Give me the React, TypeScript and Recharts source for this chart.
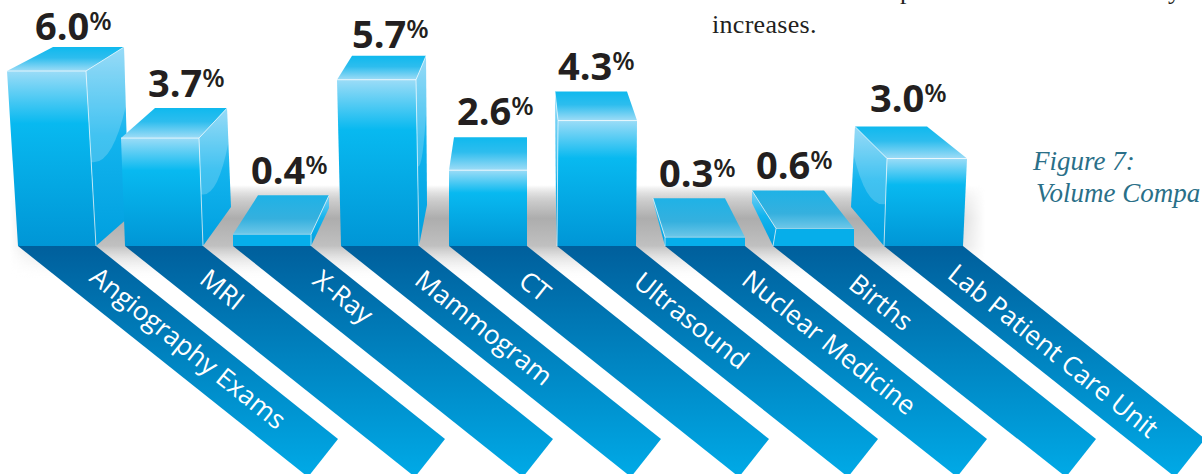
import { Bar, BarChart, LabelList, XAxis, YAxis } from "recharts";

const categories = [
  "Angiography Exams",
  "MRI",
  "X-Ray",
  "Mammogram",
  "CT",
  "Ultrasound",
  "Nuclear Medicine",
  "Births",
  "Lab Patient Care Unit",
];
const volumeChange = [6.0, 3.7, 0.4, 5.7, 2.6, 4.3, 0.3, 0.6, 3.0];

const chartData = categories.map((name, i) => ({ name, value: volumeChange[i] }));

// Perspective of each column, in px relative to its slot.
// front: top edge of the front face, back: far edge of the lid (dy above the front edge),
// foot: where the side wall meets the floor (null when no wall shows), base: front face on the floor,
// label: value text offset and lift, tag: start of the category text on its strip.
type Box = {
  front: [number, number];
  back: [number, number, number];
  foot: [number, number] | null;
  wall: "left" | "right" | null;
  base: [number, number];
  label: [number, number];
  tag: [number, number];
};
const boxes: Box[] = [
  { front: [-11, 68], back: [35, 106, -24], foot: [111, -29], wall: "right", base: [0, 78], label: [17, 31], tag: [70, 34] },
  { front: [-5, 73], back: [29, 101, -30], foot: [105, -39], wall: "right", base: [-1, 77], label: [22, 41], tag: [73, 36] },
  { front: [-1, 77], back: [24, 95, -39], foot: [95, -38], wall: "right", base: [-1, 77], label: [17, 50], tag: [78, 37] },
  { front: [-5, 74], back: [10, 84, -24], foot: [85, -41], wall: "right", base: [-1, 77], label: [10, 32], tag: [72, 37] },
  { front: [-1, 77], back: [4, 77, -33], foot: null, wall: null, base: [-1, 77], label: [7, 45], tag: [68, 38] },
  { front: [0, 79], back: [-3, 69, -29], foot: [-2, -41], wall: "left", base: [-1, 78], label: [0, 41], tag: [75, 39] },
  { front: [-1, 79], back: [-13, 59, -39], foot: [-12, -41], wall: "left", base: [-1, 79], label: [-7, 50], tag: [75, 37] },
  { front: [2, 80], back: [-22, 50, -38], foot: [-22, -43], wall: "left", base: [-1, 80], label: [-18, 50], tag: [74, 41] },
  { front: [5, 85], back: [-27, 45, -32], foot: [-31, -39], wall: "left", base: [2, 81], label: [-12, 47], tag: [62, 31] },
];

const pts = (list: number[][]) => list.map((p) => p.join(",")).join(" ");

function Column(props: any) {
  const { x, y, height, index, value } = props;
  const box = boxes[index];
  const floor = y + height;
  const flat = value < 1;
  const topY = y + box.back[2];
  const fl: number[] = [x + box.front[0], y];
  const fr: number[] = [x + box.front[1], y];
  const bl: number[] = [x + box.back[0], topY];
  const br: number[] = [x + box.back[1], topY];
  const baseL: number[] = [x + box.base[0], floor];
  const baseR: number[] = [x + box.base[1], floor];

  let wall = null;
  if (box.wall && box.foot) {
    const near = box.wall === "right" ? fr : fl;
    const far = box.wall === "right" ? br : bl;
    const nearFoot = box.wall === "right" ? baseR : baseL;
    const farFoot = [x + box.foot[0], floor + box.foot[1]];
    // glossy sweep across the upper part of the wall
    const a = [near[0] + (nearFoot[0] - near[0]) * 0.52, near[1] + (nearFoot[1] - near[1]) * 0.52];
    const b = [far[0] + (farFoot[0] - far[0]) * 0.35, far[1] + (farFoot[1] - far[1]) * 0.35];
    const ctrl = [a[0] + (b[0] - a[0]) * 0.6, a[1] + 4];
    wall = (
      <g>
        <polygon points={pts([near, far, farFoot, nearFoot])} fill="url(#wallFill)" />
        {!flat && (
          <path
            d={`M${near} L${far} L${b} Q${ctrl} ${a} Z`}
            fill="#ffffff"
            fillOpacity={0.2}
          />
        )}
      </g>
    );
  }

  return (
    <g>
      {wall}
      <polygon points={pts([bl, br, fr, fl])} fill={flat ? "url(#lidFlat)" : "url(#lidFill)"} />
      <polygon points={pts([fl, fr, baseR, baseL])} fill={flat ? "#06aeea" : "url(#frontFill)"} />
      <polyline
        points={pts([fl, fr])}
        stroke="#ffffff"
        strokeOpacity={flat ? 0.4 : 0.7}
        strokeWidth={1}
        fill="none"
      />
      {box.wall === "right" && (
        <polyline points={pts([br, fr, baseR])} stroke="#ffffff" strokeOpacity={0.65} strokeWidth={1} fill="none" />
      )}
      {box.wall === "left" && (
        <polyline points={pts([bl, fl, baseL])} stroke="#ffffff" strokeOpacity={0.65} strokeWidth={1} fill="none" />
      )}
    </g>
  );
}

function ValueLabel(props: any) {
  const { x, y, value, index } = props;
  const box = boxes[index];
  return (
    <text
      x={x + box.label[0]}
      y={y - box.label[1]}
      fill="#231f20"
      fontFamily="'Open Sans', sans-serif"
      fontWeight={700}
      fontSize={38}
    >
      {Number(value).toFixed(1)}
      <tspan fontSize={26} fontWeight={600} dy={-10}>
        %
      </tspan>
    </text>
  );
}

// Category strip running down and to the right from each column's foot.
const STRIP_RUN = 242;
const STRIP_DROP = 193;
const STRIP_CUT_X = -30;
const STRIP_CUT_Y = 38;

function StripTick(props: any) {
  const { x, index, payload } = props;
  const box = boxes[index];
  const left = x - 39 + box.base[0];
  const right = x - 39 + box.base[1];
  const floor = 246;
  const endR = [right + STRIP_RUN, floor + STRIP_DROP];
  const endL = [endR[0] + STRIP_CUT_X, endR[1] + STRIP_CUT_Y];
  return (
    <g>
      <polygon points={pts([[left, floor], [right, floor], endR, endL])} fill="url(#stripFill)" />
      <text
        transform={`translate(${left + box.tag[0]} ${floor + box.tag[1]}) rotate(38.6)`}
        fill="#ffffff"
        fontFamily="'Open Sans', sans-serif"
        fontSize={26.3}
      >
        {payload.value}
      </text>
    </g>
  );
}

export default function App() {
  return (
    <div style={{ position: "absolute", left: 0, top: 0, width: 1202, height: 474, overflow: "hidden", background: "#fff" }}>
      <BarChart
        width={1202}
        height={474}
        data={chartData}
        margin={{ top: 71, right: 227, bottom: 0, left: 3 }}
      >
        <defs>
          <linearGradient id="frontFill" x1="0" y1="0" x2="0" y2="1">
            <stop offset="0" stopColor="#9bdcf7" />
            <stop offset="0.3" stopColor="#08b9f0" />
            <stop offset="1" stopColor="#0096d6" />
          </linearGradient>
          <linearGradient id="wallFill" x1="0" y1="0" x2="0" y2="1">
            <stop offset="0" stopColor="#7fd2f5" />
            <stop offset="0.45" stopColor="#12b4ee" />
            <stop offset="1" stopColor="#009fdf" />
          </linearGradient>
          <linearGradient id="lidFill" x1="0" y1="0" x2="0" y2="1">
            <stop offset="0" stopColor="#0fb9ee" />
            <stop offset="0.45" stopColor="#2dbdee" />
            <stop offset="1" stopColor="#9edcf6" />
          </linearGradient>
          <linearGradient id="lidFlat" x1="0" y1="0" x2="0" y2="1">
            <stop offset="0" stopColor="#1fb2e6" />
            <stop offset="0.6" stopColor="#35b0de" />
            <stop offset="1" stopColor="#6ec7e8" />
          </linearGradient>
          <linearGradient id="stripFill" gradientUnits="userSpaceOnUse" x1="0" y1="246" x2="0" y2="474">
            <stop offset="0" stopColor="#005f9c" />
            <stop offset="1" stopColor="#00a9e6" />
          </linearGradient>
          <linearGradient id="floorShade" x1="0" y1="0" x2="0" y2="1">
            <stop offset="0" stopColor="#a8a8a8" stopOpacity={0} />
            <stop offset="0.21" stopColor="#c4c4c4" />
            <stop offset="0.35" stopColor="#adadad" />
            <stop offset="0.64" stopColor="#c0c0c0" />
            <stop offset="1" stopColor="#ffffff" stopOpacity={0} />
          </linearGradient>
          <linearGradient id="floorFade" x1="0" y1="0" x2="1" y2="0">
            <stop offset="0" stopColor="#000" />
            <stop offset="0.05" stopColor="#fff" />
            <stop offset="0.94" stopColor="#fff" />
            <stop offset="1" stopColor="#000" />
          </linearGradient>
          <mask id="floorMask" maskUnits="objectBoundingBox" x="0" y="0" width="1" height="1">
            <rect x={10} y={185} width={975} height={95} fill="url(#floorFade)" />
          </mask>
        </defs>
        <rect x={10} y={185} width={975} height={95} fill="url(#floorShade)" mask="url(#floorMask)" />
        {/* body copy running off the top of the page */}
        <text x={900} y={-1} fontFamily="'Liberation Serif', serif" fontSize={26} fill="#231f20">
          p
        </text>
        <text x={1168} y={-1} fontFamily="'Liberation Serif', serif" fontSize={26} fill="#231f20">
          y
        </text>
        <text x={712} y={33} fontFamily="'Liberation Serif', serif" fontSize={26} letterSpacing={0.3} fill="#231f20">
          increases.
        </text>
        <text x={1033} y={170} fontFamily="'Liberation Serif', serif" fontStyle="italic" fontSize={27} fill="#2a6f88">
          Figure 7:
        </text>
        <text x={1036} y={202} fontFamily="'Liberation Serif', serif" fontStyle="italic" fontSize={27} fill="#2a6f88">
          Volume Compa
        </text>
        <XAxis
          dataKey="name"
          axisLine={false}
          tickLine={false}
          interval={0}
          tick={<StripTick />}
          tickMargin={0}
          height={228}
        />
        <YAxis hide domain={[0, 6]} />
        <Bar dataKey="value" barSize={78} isAnimationActive={false} shape={<Column />}>
          <LabelList dataKey="value" content={<ValueLabel />} />
        </Bar>
      </BarChart>
    </div>
  );
}
